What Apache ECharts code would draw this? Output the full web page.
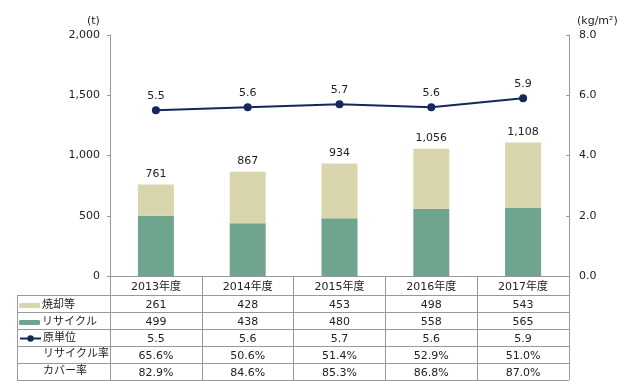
<!DOCTYPE html>
<html><head><meta charset="utf-8">
<script src="https://cdn.jsdelivr.net/npm/echarts@6/dist/echarts.min.js"></script>
<style>html,body{margin:0;padding:0;background:#fff}#c{width:625px;height:385px}</style>
</head><body><div id="c"></div>
<script>
const categories = ['2013年度','2014年度','2015年度','2016年度','2017年度'];
const incineration = [261, 428, 453, 498, 543];
const recycle = [499, 438, 480, 558, 565];
const totals = [761, 867, 934, 1056, 1108];
const unitRate = [5.5, 5.6, 5.7, 5.6, 5.9];
const recycleRate = ['65.6%', '50.6%', '51.4%', '52.9%', '51.0%'];
const coverRate = ['82.9%', '84.6%', '85.3%', '86.8%', '87.0%'];
const leftTicks = {min: 0, max: 2000, interval: 500};
const rightTicks = {min: 0, max: 8, interval: 2};

const FONT = 'DejaVu Sans, Noto Sans CJK JP, sans-serif';
const TXT = '#222';
const GRID = {left: 110, right: 56, top: 35, bottom: 109};
const chart = echarts.init(document.getElementById('c'));

function fmtNum(v){ return Number(v).toLocaleString('en-US'); }

const tableRows = [
  incineration.map(fmtNum),
  recycle.map(fmtNum),
  unitRate.map(v => v.toFixed(1)),
  recycleRate,
  coverRate
];
const rowOffsets = [20, 37, 54, 71, 88];

const xAxes = [{
  type: 'category', data: categories, gridIndex: 0, position: 'bottom',
  axisLine: {lineStyle: {color: '#999', width: 1}},
  axisTick: {show: true, length: 104, lineStyle: {color: '#999'}},
  axisLabel: {color: TXT, fontSize: 11, fontFamily: FONT, margin: 5, lineHeight: 13}
}];
tableRows.forEach((row, i) => {
  xAxes.push({
    type: 'category', data: categories, gridIndex: 0, position: 'bottom',
    offset: rowOffsets[i],
    axisLine: {show: false}, axisTick: {show: false},
    axisLabel: {color: TXT, fontSize: 11, fontFamily: FONT, margin: 3, lineHeight: 13,
      formatter: (v, idx) => row[idx]}
  });
});

const lineYs = [295, 312, 329, 346, 363, 380];
const graphics = [];
lineYs.forEach(y => graphics.push({type: 'line', silent: true,
  shape: {x1: 17, y1: y + 0.5, x2: 569, y2: y + 0.5}, style: {stroke: '#999', lineWidth: 1}}));
graphics.push({type: 'line', silent: true, shape: {x1: 17.5, y1: 295, x2: 17.5, y2: 380.5}, style: {stroke: '#999', lineWidth: 1}});
graphics.push({type: 'text', left: 87, top: 16, style: {text: '(t)', fill: TXT, font: '11px ' + FONT}});
graphics.push({type: 'text', left: 577, top: 16, style: {text: '(kg/m²)', fill: TXT, font: '11px ' + FONT}});
graphics.push({type: 'text', left: 43, top: 349, style: {text: 'リサイクル率', fill: TXT, font: '11px ' + FONT}});
graphics.push({type: 'text', left: 43, top: 366, style: {text: 'カバー率', fill: TXT, font: '11px ' + FONT}});

function leg(name, top, extra){
  return Object.assign({data: [name], left: 19, top: top, itemWidth: 21, itemHeight: 5, itemGap: 0,
    padding: 0, textStyle: {color: TXT, fontSize: 11, fontFamily: FONT, padding: [0,0,0,-3]}, selectedMode: false}, extra || {});
}

chart.setOption({
  animation: false,
  grid: GRID,
  legend: [
    leg('焼却等', 300),
    leg('リサイクル', 317),
    leg('原単位', 333, {itemHeight: 8})
  ],
  xAxis: xAxes,
  yAxis: [{
    type: 'value', min: leftTicks.min, max: leftTicks.max, interval: leftTicks.interval,
    axisLine: {show: true, lineStyle: {color: '#999'}},
    axisTick: {show: true, length: 3, lineStyle: {color: '#999'}},
    splitLine: {show: false},
    axisLabel: {color: TXT, fontSize: 11, fontFamily: FONT, margin: 10, formatter: fmtNum}
  }, {
    type: 'value', position: 'right', min: rightTicks.min, max: rightTicks.max, interval: rightTicks.interval,
    axisLine: {show: true, lineStyle: {color: '#999'}},
    axisTick: {show: true, inside: true, length: 3, lineStyle: {color: '#999'}},
    splitLine: {show: false},
    axisLabel: {color: TXT, fontSize: 11, fontFamily: FONT, margin: 10, formatter: v => v.toFixed(1)}
  }],
  series: [{
    name: 'リサイクル', type: 'bar', stack: 't', data: recycle, barWidth: 36,
    itemStyle: {color: '#6fa58e'}
  }, {
    name: '焼却等', type: 'bar', stack: 't', data: incineration, barWidth: 36,
    itemStyle: {color: '#d9d6ad'},
    label: {show: true, position: 'top', distance: 5, color: TXT, fontSize: 11, fontFamily: FONT,
      formatter: p => fmtNum(totals[p.dataIndex])}
  }, {
    name: '原単位', type: 'line', yAxisIndex: 1, data: unitRate,
    symbol: 'circle', symbolSize: 8,
    lineStyle: {color: '#14285a', width: 2}, itemStyle: {color: '#14285a'},
    label: {show: true, position: 'top', distance: 5, color: TXT, fontSize: 11, fontFamily: FONT,
      formatter: p => p.value.toFixed(1)}
  }],
  graphic: graphics
});
</script></body></html>
